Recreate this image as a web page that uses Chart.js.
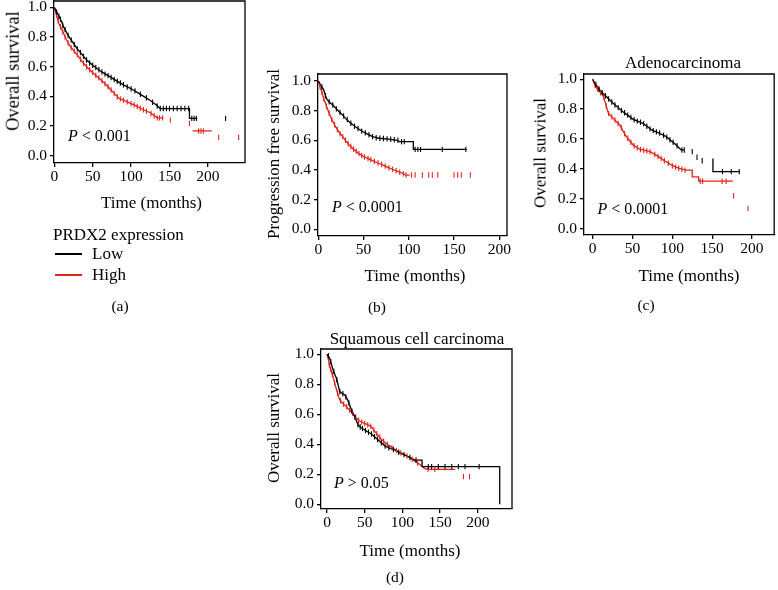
<!DOCTYPE html>
<html>
<head>
<meta charset="utf-8">
<script src="https://cdn.jsdelivr.net/npm/chart.js@4/dist/chart.umd.min.js"></script>
<style>
  body { margin:0; width:778px; height:590px; overflow:hidden; background:#fff; position:relative;
         font-family:"Liberation Serif", "DejaVu Serif", serif; color:#000; }
  canvas { position:absolute; }
  .t { position:absolute; white-space:nowrap; line-height:1; font-size:17px; transform:translate(-50%,-50%); }
  .v { transform:translate(-50%,-50%) rotate(-90deg); }
  .l { position:absolute; white-space:nowrap; line-height:1; font-size:17px; transform:translateY(-50%); }
  .leg { position:absolute; width:27px; height:2px; }
</style>
</head>
<body>

<canvas id="cA"></canvas>
<canvas id="cB"></canvas>
<canvas id="cC"></canvas>
<canvas id="cD"></canvas>

<!-- panel (a) -->
<div class="t v" style="left:12.5px;top:71px;font-size:18.5px">Overall survival</div>
<div class="l" style="left:68px;top:136px;font-size:16px"><i>P</i> &lt; 0.001</div>
<div class="t" style="left:151.5px;top:202px">Time (months)</div>
<div class="l" style="left:53px;top:234px">PRDX2 expression</div>
<div class="leg" style="left:55px;top:253px;background:#000"></div>
<div class="l" style="left:92px;top:253px">Low</div>
<div class="leg" style="left:55px;top:274px;background:#e3241b"></div>
<div class="l" style="left:92px;top:274px">High</div>
<div class="t" style="left:120px;top:306px;font-size:15.5px">(a)</div>

<!-- panel (b) -->
<div class="t v" style="left:273px;top:154px">Progression free survival</div>
<div class="l" style="left:332px;top:207px;font-size:16px"><i>P</i> &lt; 0.0001</div>
<div class="t" style="left:415px;top:275px">Time (months)</div>
<div class="t" style="left:377px;top:307px;font-size:15.5px">(b)</div>

<!-- panel (c) -->
<div class="t" style="left:683px;top:62px">Adenocarcinoma</div>
<div class="t v" style="left:540px;top:152.5px">Overall survival</div>
<div class="l" style="left:597.5px;top:209px;font-size:16px"><i>P</i> &lt; 0.0001</div>
<div class="t" style="left:689px;top:275px">Time (months)</div>
<div class="t" style="left:646px;top:305px;font-size:15.5px">(c)</div>

<!-- panel (d) -->
<div class="t" style="left:417px;top:338px">Squamous cell carcinoma</div>
<div class="t v" style="left:273px;top:428px">Overall survival</div>
<div class="l" style="left:334px;top:483px;font-size:16px"><i>P</i> &gt; 0.05</div>
<div class="t" style="left:410px;top:550px">Time (months)</div>
<div class="t" style="left:395px;top:577px;font-size:15.5px">(d)</div>

<script>
// ticks shared by every panel
const xTicks = [0, 50, 100, 150, 200];
const yTicks = [0, 0.2, 0.4, 0.6, 0.8, 1.0];

// ---- (a) overall survival, all patients ----
const aLowCurve = [[0,1.0],[2,0.98],[4,0.96],[6,0.94],[9,0.91],[12,0.87],[16,0.83],[20,0.795],[25,0.758],[30,0.72],[35,0.69],[42,0.645],[50,0.61],[60,0.571],[70,0.54],[80,0.508],[90,0.478],[103,0.443],[110,0.42],[118,0.395],[125,0.372],[132,0.345],[138,0.318],[176,0.318],[176,0.252],[186,0.252]];
const aLowCens = [[3,0.97],[6,0.94],[8,0.92],[11,0.88],[14,0.85],[18,0.81],[22,0.78],[26,0.75],[30,0.72],[34,0.695],[38,0.67],[42,0.645],[46,0.625],[50,0.61],[54,0.595],[58,0.58],[62,0.565],[66,0.55],[70,0.54],[74,0.527],[78,0.514],[82,0.502],[86,0.49],[90,0.478],[95,0.463],[100,0.452],[105,0.437],[112,0.414],[120,0.39],[128,0.36],[134,0.335],[138,0.318],[142,0.318],[146,0.318],[150,0.318],[155,0.318],[160,0.318],[165,0.318],[170,0.318],[175,0.318],[179,0.252],[182,0.252],[185,0.252],[223,0.252]];
const aHighCurve = [[0,1.0],[2,0.96],[4,0.93],[6,0.89],[9,0.86],[12,0.825],[16,0.78],[21,0.735],[25,0.71],[30,0.68],[38,0.623],[45,0.585],[50,0.56],[56,0.533],[62,0.505],[68,0.475],[73,0.448],[78,0.42],[84,0.387],[90,0.375],[99,0.353],[106,0.338],[112,0.32],[118,0.305],[125,0.29],[130,0.27],[134,0.255],[142,0.255],[160,null],[180,0.167],[205,0.167]];
const aHighCens = [[3,0.95],[5,0.91],[8,0.87],[11,0.835],[14,0.8],[18,0.76],[22,0.728],[26,0.705],[30,0.68],[34,0.65],[38,0.623],[42,0.6],[46,0.58],[50,0.56],[54,0.542],[58,0.525],[62,0.505],[66,0.485],[70,0.465],[74,0.443],[78,0.42],[82,0.398],[86,0.383],[90,0.375],[95,0.363],[100,0.351],[104,0.342],[108,0.332],[112,0.32],[116,0.31],[120,0.3],[126,0.285],[130,0.27],[134,0.255],[137,0.255],[141,0.255],[151,0.24],[176,0.218],[188,0.167],[191,0.167],[194,0.167],[214,0.124],[240,0.124]];

// ---- (b) progression free survival ----
const bLowCurve = [[0,1.0],[3,0.97],[6,0.94],[8,0.9],[10,0.872],[13,0.853],[16,0.838],[20,0.812],[23,0.793],[27,0.77],[30,0.748],[35,0.72],[41,0.692],[45,0.675],[49,0.659],[55,0.64],[60,0.625],[67,0.614],[75,0.61],[86,0.602],[90,0.591],[105,0.591],[105,0.539],[164,0.539]];
const bLowCens = [[4,0.96],[8,0.9],[12,0.86],[16,0.838],[20,0.812],[24,0.788],[28,0.765],[32,0.74],[36,0.715],[40,0.695],[44,0.68],[48,0.662],[52,0.65],[56,0.637],[60,0.625],[64,0.617],[68,0.614],[72,0.612],[76,0.61],[80,0.607],[84,0.604],[88,0.6],[92,0.591],[95,0.591],[107,0.539],[110,0.539],[113,0.539],[137,0.539],[163,0.539]];
const bHighCurve = [[0,1.0],[2,0.96],[4.4,0.917],[6,0.88],[8,0.85],[10,0.815],[12,0.782],[15,0.74],[19,0.692],[23,0.655],[27,0.625],[30,0.6],[34,0.569],[38,0.545],[41.5,0.528],[45,0.51],[49,0.494],[55,0.477],[60,0.463],[66,0.447],[71,0.434],[77,0.418],[82,0.405],[88,0.39],[93,0.378],[97,0.366],[101,0.366]];
const bHighCens = [[2,0.96],[4,0.925],[6,0.88],[9,0.83],[12,0.782],[15,0.74],[18,0.705],[21,0.673],[24,0.645],[27,0.625],[30,0.6],[33,0.577],[36,0.558],[39,0.54],[42,0.526],[45,0.51],[48,0.497],[51,0.488],[55,0.477],[58,0.469],[62,0.458],[66,0.447],[70,0.437],[74,0.426],[78,0.415],[82,0.405],[86,0.395],[90,0.385],[94,0.375],[97,0.366],[103,0.366],[107,0.366],[115,0.366],[122,0.366],[126,0.366],[132,0.366],[150,0.366],[154,0.366],[158,0.366],[168,0.366]];

// ---- (c) adenocarcinoma ----
const cLowCurve = [[0,1.0],[3,0.97],[6,0.95],[9,0.928],[13,0.905],[17.5,0.883],[22,0.858],[26,0.838],[32,0.81],[38,0.783],[45,0.755],[51,0.731],[57,0.718],[63,0.705],[68,0.685],[74,0.661],[82,0.643],[88,0.628],[92.5,0.615],[98,0.59],[105,0.56],[111,0.527],[115,0.527],[140,null],[151,0.47],[151,0.382],[185,0.382]];
const cLowCens = [[4,0.965],[8,0.935],[12,0.91],[16,0.89],[20,0.868],[24,0.848],[28,0.828],[32,0.81],[36,0.792],[40,0.776],[44,0.76],[48,0.744],[52,0.729],[56,0.72],[60,0.712],[64,0.703],[68,0.685],[72,0.668],[76,0.656],[80,0.648],[84,0.64],[89,0.625],[93,0.613],[97,0.595],[101,0.578],[106,0.555],[112,0.527],[115,0.527],[125,0.516],[131,0.478],[137.5,0.455],[163,0.382],[174,0.382],[184,0.382]];
const cHighCurve = [[0,1.0],[2,0.97],[5,0.94],[9,0.915],[13,0.894],[16,0.84],[19.6,0.775],[22,0.76],[25.8,0.738],[30,0.716],[34,0.694],[38,0.655],[42.5,0.615],[47,0.585],[51,0.559],[55,0.545],[59,0.532],[65,0.524],[72,0.515],[78,0.497],[84,0.477],[90,0.455],[97,0.432],[103,0.415],[109,0.403],[117,0.392],[125,0.392],[125,0.347],[133,0.347],[133,0.318],[176,0.318]];
const cHighCens = [[3,0.96],[6,0.935],[10,0.91],[14,0.88],[17,0.82],[20,0.77],[24,0.748],[28,0.727],[32,0.705],[36,0.675],[40,0.635],[44,0.605],[48,0.578],[52,0.555],[56,0.542],[60,0.53],[64,0.525],[68,0.52],[72,0.515],[78,0.497],[82,0.484],[86,0.47],[90,0.455],[95,0.438],[100,0.42],[104,0.412],[108,0.405],[112,0.398],[116,0.392],[135,0.318],[138,0.318],[162.5,0.318],[167.5,0.318],[177,0.221],[195,0.136]];

// ---- (d) squamous cell carcinoma ----
const dLowCurve = [[0,1.0],[3.5,0.973],[6,0.93],[8,0.895],[10,0.87],[12.4,0.84],[14.5,0.8],[16.8,0.751],[20,0.74],[23.5,0.729],[27,0.7],[30,0.662],[33,0.62],[36.8,0.584],[39,0.555],[41.2,0.529],[45,0.512],[50,0.495],[55,0.48],[59,0.469],[63,0.45],[67.8,0.429],[72,0.41],[76.6,0.389],[83,0.375],[89.9,0.362],[96,0.345],[103,0.329],[110,0.312],[116.5,0.295],[126,0.295],[126,0.251],[229,0.251],[229,0]];
const dLowCens = [[2,0.99],[5,0.95],[9,0.885],[13,0.83],[17,0.75],[21,0.737],[25,0.715],[29,0.675],[33,0.62],[37,0.58],[41,0.53],[44,0.515],[47,0.505],[51,0.492],[55,0.48],[59,0.469],[63,0.45],[67,0.432],[72,0.41],[77,0.388],[82,0.377],[88,0.365],[95,0.347],[102,0.331],[110,0.312],[118,0.295],[134.3,0.251],[138.7,0.251],[147.6,0.251],[156.5,0.251],[165.4,0.251],[174.2,0.251],[183,0.251],[201.7,0.251]];
const dHighCurve = [[0,1.0],[2,0.96],[3.5,0.918],[6,0.88],[8,0.851],[11,0.79],[14,0.74],[16.8,0.695],[21,0.672],[25.7,0.651],[29,0.632],[32.3,0.617],[37,0.585],[41.2,0.562],[45,0.55],[50,0.539],[55,0.528],[58.9,0.517],[62,0.495],[65.5,0.473],[69,0.452],[72.2,0.433],[77,0.412],[81.1,0.395],[88,0.372],[94.4,0.351],[101,0.335],[107.7,0.318],[114,0.296],[121,0.273],[127,0.25],[129,0.24],[133,0.233],[170,0.233]];
const dHighCens = [[3,0.93],[5,0.9],[7,0.865],[10,0.81],[14,0.74],[18,0.69],[22,0.667],[26,0.65],[30,0.628],[34,0.607],[38,0.58],[42,0.56],[46,0.548],[50,0.539],[54,0.53],[58,0.52],[62,0.495],[66,0.47],[70,0.447],[75,0.42],[80,0.4],[86,0.378],[92,0.358],[98,0.342],[106,0.322],[113,0.3],[120,0.276],[134,0.233],[143,0.233],[181,0.185],[189,0.185]];

const BLACK = '#000';
const RED = '#e3241b';
const Y_W = 50;   // room left of the box for y tick labels
const X_H = 30;   // room under the box for x tick labels
const PAD_T = 10;

Chart.defaults.font.family = '"Liberation Serif", "DejaVu Serif", serif';
Chart.defaults.font.size = 15.5;
Chart.defaults.color = '#000';

const pts = arr => arr.map(p => ({x: p[0], y: p[1]}));

const curve = (arr, color) => ({
  data: pts(arr), borderColor: color, borderWidth: 1.3, pointRadius: 0,
  spanGaps: false, tension: 0, order: 2
});
const cens = (arr, color) => ({
  data: pts(arr), showLine: false, pointStyle: 'line', rotation: 90,
  pointRadius: 2.7, pointBorderWidth: 1.1, pointBorderColor: color, borderColor: color,
  pointHoverRadius: 0, order: 1
});

// top + right edges of the box (left/bottom are the axis borders)
const frame = {
  id: 'frame',
  afterDraw(c) {
    const a = c.chartArea, ctx = c.ctx;
    ctx.save();
    ctx.strokeStyle = '#000';
    ctx.lineWidth = 1.3;
    ctx.beginPath();
    ctx.moveTo(a.left, a.top);
    ctx.lineTo(a.right, a.top);
    ctx.lineTo(a.right, a.bottom);
    ctx.stroke();
    ctx.restore();
  }
};

// box = page pixels of the plot frame, range = data limits at the frame edges
function kmPanel(id, box, range, padR, datasets) {
  const cv = document.getElementById(id);
  const w = box.R - box.L + Y_W + padR;
  const h = box.B - box.T + PAD_T + X_H;
  cv.width = w; cv.height = h;
  cv.style.left = (box.L - Y_W) + 'px';
  cv.style.top = (box.T - PAD_T) + 'px';

  new Chart(cv, {
    type: 'line',
    data: {datasets},
    options: {
      responsive: false,
      animation: false,
      events: [],
      layout: {padding: {left: 0, top: PAD_T, right: padR, bottom: 0}},
      plugins: {legend: {display: false}, tooltip: {enabled: false}},
      scales: {
        x: {
          type: 'linear', min: range.x0, max: range.x1,
          afterBuildTicks: s => { s.ticks = xTicks.map(v => ({value: v})); },
          afterFit: s => { s.height = X_H; s.paddingLeft = 0; s.paddingRight = 0; },
          grid: {drawOnChartArea: false, tickLength: 4, color: '#000', lineWidth: 1.3},
          border: {color: '#000', width: 1.3},
          ticks: {padding: 1, maxRotation: 0, autoSkip: false}
        },
        y: {
          type: 'linear', min: range.y0, max: range.y1,
          afterBuildTicks: s => { s.ticks = yTicks.map(v => ({value: v})); },
          afterFit: s => { s.width = Y_W; s.paddingTop = 0; s.paddingBottom = 0; },
          grid: {drawOnChartArea: false, tickLength: 4, color: '#000', lineWidth: 1.3},
          border: {color: '#000', width: 1.3},
          ticks: {padding: 3, callback: v => v.toFixed(1)}
        }
      }
    },
    plugins: [frame]
  });
}

kmPanel('cA', {L: 54, T: 1, R: 245, B: 163},
  {x0: -0.4, x1: 248.3, y0: -0.049, y1: 1.043}, 6,
  [curve(aLowCurve, BLACK), curve(aHighCurve, RED), cens(aLowCens, BLACK), cens(aHighCens, RED)]);

kmPanel('cB', {L: 318, T: 74, R: 507, B: 236},
  {x0: -0.3, x1: 208.5, y0: -0.045, y1: 1.047}, 8,
  [curve(bLowCurve, BLACK), curve(bHighCurve, RED), cens(bLowCens, BLACK), cens(bHighCens, RED)]);

kmPanel('cC', {L: 584, T: 74, R: 775, B: 235},
  {x0: -10.9, x1: 227.9, y0: -0.042, y1: 1.035}, 3,
  [curve(cLowCurve, BLACK), curve(cHighCurve, RED), cens(cLowCens, BLACK), cens(cHighCens, RED)]);

kmPanel('cD', {L: 321, T: 349, R: 512, B: 509},
  {x0: -8, x1: 245.3, y0: -0.031, y1: 1.035}, 6,
  [curve(dLowCurve, BLACK), curve(dHighCurve, RED), cens(dLowCens, BLACK), cens(dHighCens, RED)]);
</script>
</body>
</html>
